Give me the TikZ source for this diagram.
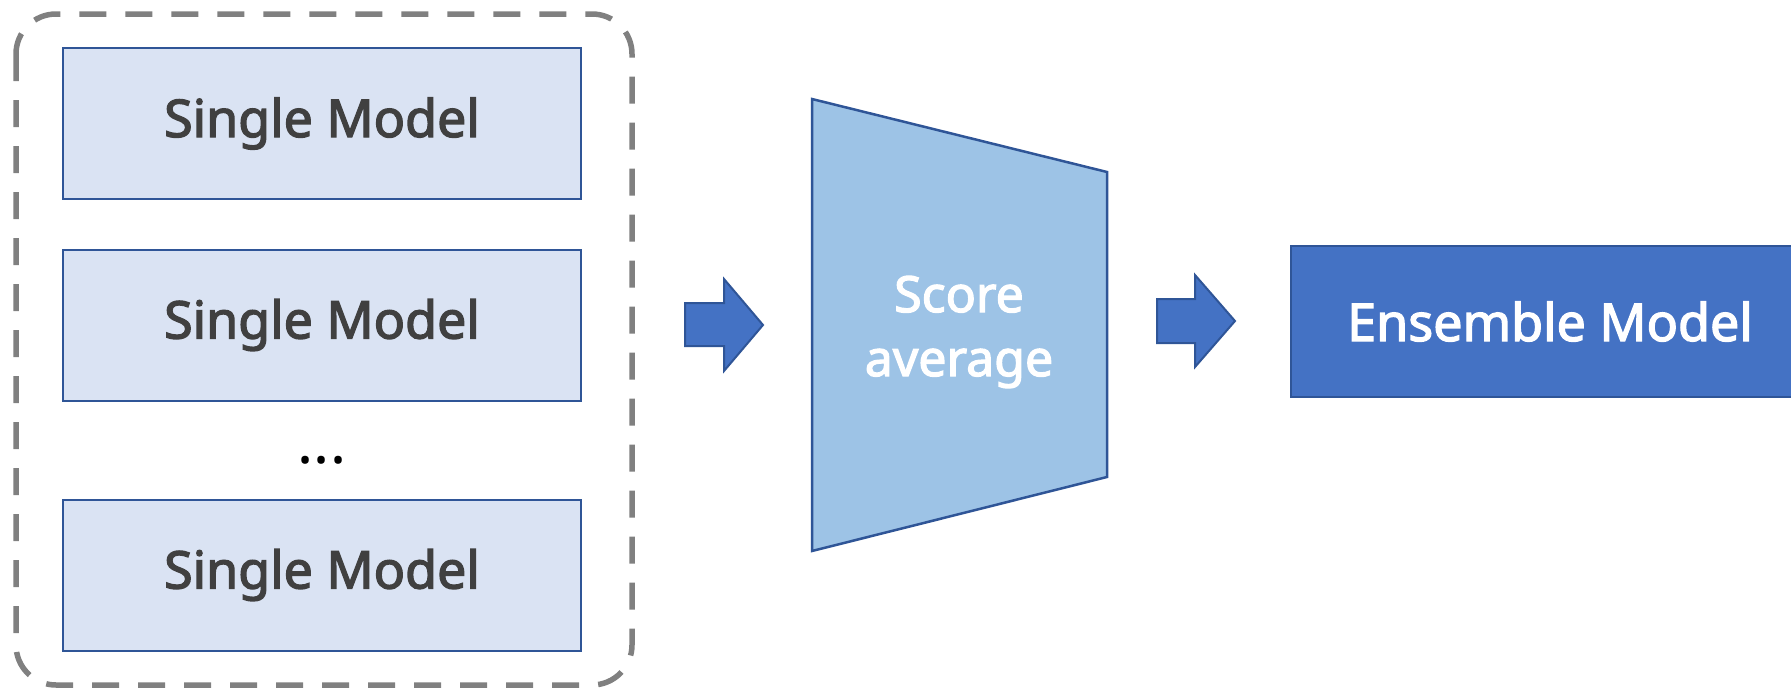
\documentclass[tikz,border=0pt]{standalone}
\usepackage{fontspec}
\setmainfont{Noto Sans}
\newfontfamily\medfont{Noto Sans}[FakeBold=2.5]
\definecolor{boxfill}{HTML}{DAE3F3}
\definecolor{boxline}{HTML}{2F5597}
\definecolor{txtgray}{HTML}{404040}
\definecolor{trapfill}{HTML}{9DC3E6}
\definecolor{darkblue}{HTML}{4472C4}
\definecolor{dashgray}{HTML}{808080}
\begin{document}
\begin{tikzpicture}[x=1pt,y=-1pt,
  single/.style={draw=boxline, line width=2pt, fill=boxfill, minimum width=518pt, minimum height=151pt, text=txtgray, font=\medfont\fontsize{52}{60}\selectfont, inner sep=0pt},
  ensbox/.style={draw=boxline, line width=2pt, fill=darkblue, minimum width=518pt, minimum height=151pt, text=white, font=\medfont\fontsize{52}{60}\selectfont, inner sep=0pt},
  blockarrow/.style={fill=darkblue, draw=boxline, line width=2pt, line join=miter},
  trap/.style={fill=trapfill, draw=boxline, line width=2.5pt, line join=miter},
  group/.style={draw=dashgray, line width=5.5pt, dash pattern=on 27pt off 19pt, rounded corners=40pt}
]
\useasboundingbox (0,0) rectangle (1791,688);
\draw[group] (16,14) rectangle (632,685);
\node[single] (m1) at (322,123.5) {Single Model};
\node[single] (m2) at (322,325) {Single Model};
\node[anchor=base, inner sep=0pt, font=\fontsize{60}{60}\selectfont\bfseries] (dots) at (322,463) {...};
\node[single] (m3) at (322,575) {Single Model};
% arrow 1
\draw[blockarrow] (685,303) -- (724,303) -- (724,279) -- (763,325) -- (724,371) -- (724,346) -- (685,346) -- cycle;
% score average trapezoid
\draw[trap] (812,99) -- (1107,172) -- (1107,477) -- (812,551) -- cycle;
\node[align=center, text=white, font=\medfont\fontsize{50}{64}\selectfont, inner sep=0pt] (avg) at (959,332) {Score\\average};
% arrow 2
\draw[blockarrow] (1157,299) -- (1195,299) -- (1195,275) -- (1235,321) -- (1195,367) -- (1195,343) -- (1157,343) -- cycle;
\node[ensbox] (ens) at (1550,321.5) {Ensemble Model};
\end{tikzpicture}
\end{document}
